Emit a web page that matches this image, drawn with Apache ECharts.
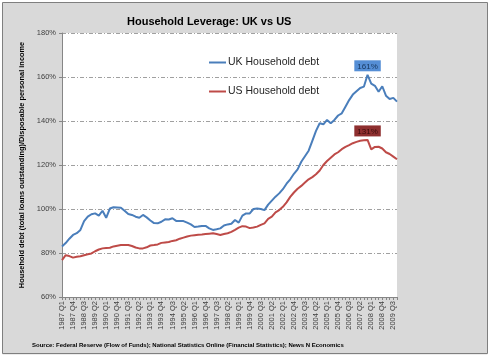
<!DOCTYPE html>
<html>
<head>
<meta charset="utf-8">
<style>html,body{margin:0;padding:0;background:#fff}#c{width:490px;height:357px}</style>
<script src="https://cdn.jsdelivr.net/npm/echarts@6/dist/echarts.min.js"></script>
</head>
<body>
<div id="c"></div>
<script>
const startYear = 1987;
const endYear = 2009;
const quarterNames = ['Q1','Q2','Q3','Q4'];
const categories = [];
for (let y = startYear; y <= endYear; y++) {
  for (const q of quarterNames) categories.push(y + ' ' + q);
}

const ukDebt = [
  83, 84.5, 86.5, 88.2, 89, 90.5, 94.5, 96.5, 97.6, 98,
  97, 99.2, 96, 100.2, 100.8, 100.7, 100.6, 99.2, 97.7, 97.3,
  96.5, 96, 97.3, 96.2, 94.8, 93.6, 93.5, 94.2, 95.3, 95.2,
  95.8, 94.6, 94.5, 94.5, 93.8, 93, 91.8, 92, 92.3, 92.3,
  91.2, 90.5, 90.8, 91.2, 92.5, 93, 93.3, 95, 93.8, 97,
  98, 98, 100, 100.2, 100, 99.5, 102, 103.8, 105.6, 107.1,
  109, 111.5, 113.5, 116, 118, 121.5, 124, 126.5, 131, 135.5,
  139, 138.5, 140.5, 139, 140.5, 142.5, 143.5, 146.5, 149.5, 152,
  153.5, 155, 155.6, 161, 157, 156, 153.3, 155.8, 151.5, 150,
  150.5, 148.8
];

const usDebt = [
  76.8, 79, 78.6, 77.9, 78.3, 78.5, 79, 79.4, 79.8, 80.8,
  81.6, 82.1, 82.3, 82.4, 83, 83.3, 83.6, 83.6, 83.6, 83.2,
  82.5, 82.1, 82.1, 82.6, 83.4, 83.6, 83.9, 84.6, 84.8, 85,
  85.5, 85.8, 86.5, 87, 87.5, 87.9, 88.1, 88.3, 88.4, 88.6,
  88.8, 89, 88.6, 88.2, 88.6, 89, 89.6, 90.5, 91.5, 92.2,
  92, 91.3, 91.6, 92, 92.8, 93.5, 95.5, 96.5, 98.5, 99.5,
  101, 103, 105.5, 107.5, 109.2, 110.5, 112, 113.5, 114.5, 115.8,
  117.5, 120, 121.8, 123.3, 124.8, 125.8, 127.2, 128.2, 129, 129.9,
  130.5, 131, 131.2, 131.4, 127.1, 128.2, 128.3, 127.5, 125.8, 125,
  123.8, 122.6
];

const yTicks = { min: 60, max: 180, step: 20 };
const seriesNames = ['UK Household debt', 'US Household debt'];
const titleText = 'Household Leverage: UK vs US';
const yAxisTitle = 'Household debt (total loans outstanding)/Disposable personal income';
const sourceText = 'Source: Federal Reserve (Flow of Funds); National Statistics Online (Financial Statistics); News N Economics';

const FONT = "'Liberation Sans', Arial, sans-serif";

function peakMark(bg, fg) {
  return {
    symbol: 'rect', symbolSize: [1, 1],
    itemStyle: { color: 'rgba(0,0,0,0)' },
    label: {
      show: true, position: 'top', distance: 3,
      formatter: p => Math.round(p.value) + '%',
      backgroundColor: bg, color: fg,
      fontFamily: FONT, fontSize: 8, padding: [2, 3, 1, 3]
    },
    data: [{ type: 'max' }]
  };
}

const chart = echarts.init(document.getElementById('c'), null, { renderer: 'canvas' });
chart.setOption({
  animation: false,
  backgroundColor: '#d9d9d9',
  title: {
    text: titleText, left: 122, top: 11,
    textStyle: { fontFamily: FONT, fontWeight: 'bold', fontSize: 11, color: '#000' }
  },
  legend: {
    orient: 'vertical', left: 204, top: 52, itemGap: 18,
    icon: 'rect', itemWidth: 17, itemHeight: 2,
    textStyle: { fontFamily: FONT, fontSize: 10.5, color: '#262626', padding: [0, 0, 0, -3] },
    data: seriesNames
  },
  grid: { left: 62, right: 93, top: 33, bottom: 60, show: true, backgroundColor: '#fff', borderWidth: 0 },
  xAxis: {
    type: 'category', boundaryGap: false, data: categories,
    axisLine: { lineStyle: { color: '#868686' } },
    axisTick: { interval: 0, length: 3, lineStyle: { color: '#868686' } },
    axisLabel: { interval: 2, rotate: 90, fontFamily: FONT, fontSize: 7.5, color: '#404040', margin: 4 },
    splitLine: { show: false }
  },
  yAxis: {
    type: 'value', min: yTicks.min, max: yTicks.max, interval: yTicks.step,
    name: yAxisTitle, nameLocation: 'middle', nameGap: 29, nameRotate: 90,
    nameTextStyle: { fontFamily: FONT, fontWeight: 'bold', fontSize: 7.4, color: '#000' },
    axisLine: { show: true, lineStyle: { color: '#868686' } },
    axisTick: { show: true, length: 3, lineStyle: { color: '#868686' } },
    axisLabel: { formatter: '{value}%', fontFamily: FONT, fontSize: 7.5, color: '#404040', margin: 6 },
    splitLine: { lineStyle: { color: '#a0a0a0', type: [4, 2, 1, 2], width: 1 } }
  },
  series: [
    {
      name: seriesNames[0], type: 'line', data: ukDebt,
      showSymbol: false, symbol: 'none', color: '#4a7ebb', lineStyle: { width: 2 }, z: 3,
      markPoint: peakMark('#558ed5', '#17375e')
    },
    {
      name: seriesNames[1], type: 'line', data: usDebt,
      showSymbol: false, symbol: 'none', color: '#be4b48', lineStyle: { width: 2 }, z: 3,
      markPoint: peakMark('#8e2f2f', '#3a0c0c')
    }
  ],
  graphic: [
    { type: 'text', left: 32, top: 342, style: { text: sourceText, font: "bold 6px " + FONT, fill: '#000' } },
    { type: 'rect', shape: { x: 0, y: 0, width: 490, height: 357 }, style: { fill: 'none', stroke: '#fff', lineWidth: 5 }, silent: true },
    { type: 'rect', shape: { x: 2.5, y: 2.5, width: 485, height: 351 }, style: { fill: 'none', stroke: '#7f7f7f', lineWidth: 1 }, silent: true }
  ]
});
</script>
</body>
</html>
